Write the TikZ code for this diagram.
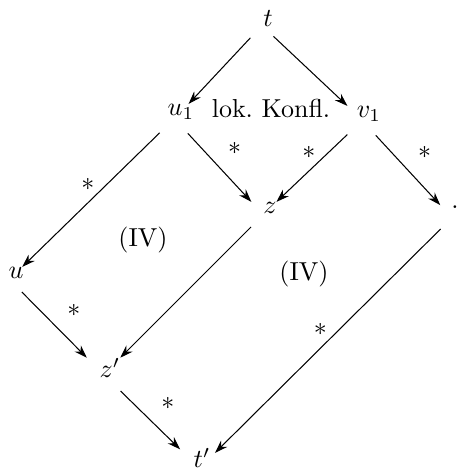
\documentclass[tikz,border=0pt]{standalone}
\usepackage{amsmath,amssymb}
\usepackage{tikz}
\usetikzlibrary{arrows.meta}
\tikzset{
  term/.style ={inner sep=0pt},
  rd/.style   ={-{Stealth[length=5pt,width=3.4pt]}, shorten <=7pt, shorten >=0pt},
  dr/.style   ={rd, transform canvas={xshift=-5pt}},
  lstar/.style={anchor=south east, inner sep=1pt},
  rstar/.style={above right=3pt, inner sep=1pt},
}
\begin{document}
\begin{tikzpicture}[x=0.385pt, y=-0.385pt]
  \useasboundingbox (0,0) rectangle (457,472);
  % terms
  \node[term] (t)  at (268,19)  {$t$};
  \node[term] (u1) at (181,112) {$u_1$};
  \node[term] (v1) at (369,114) {$v_1$};
  \node[term] (z)  at (270,208) {$z$};
  \node[term] (w)  at (455,207) {.};
  \node[term] (u)  at (16,273)  {$u$};
  \node[term] (z2) at (110,368) {$z'$};
  \node[term] (t2) at (202,458) {$t'$};
  % region labels
  \node (konfl) at (271,108) {lok.\ Konfl.};
  \node (iv1) at (143,240) {(IV)};
  \node (iv2) at (304,274) {(IV)};
  % reductions
  \draw[rd] (t) -- (u1);
  \draw[dr] (t) -- (v1);
  \draw[rd] (u1) -- node[lstar, pos=.50] {$*$} (u);
  \draw[dr] (u1) -- node[rstar, pos=.55] {$*$} (z);
  \draw[rd] (v1) -- node[lstar, pos=.50] {$*$} (z);
  \draw[dr] (v1) -- node[rstar, pos=.57] {$*$} (w);
  \draw[rd] (z) -- (z2);
  \draw[rd, shorten <=11pt, shorten >=-2pt, transform canvas={xshift=3pt}] (w) -- node[lstar, pos=.54] {$*$} (t2);
  \draw[dr] (u) -- node[rstar, pos=.61] {$*$} (z2);
  \draw[dr] (z2) -- node[rstar, pos=.59] {$*$} (t2);
\end{tikzpicture}
\end{document}
